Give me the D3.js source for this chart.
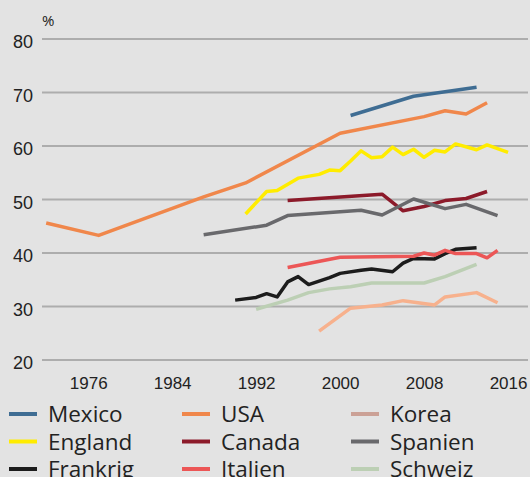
<!DOCTYPE html>
<html>
<head>
<meta charset="utf-8">
<script src="https://cdn.jsdelivr.net/npm/d3@7/dist/d3.min.js"></script>
<style>
  body { margin: 0; background: #e3e3e3; }
  svg { display: block; font-family: "Open Sans", sans-serif; }
  .grid line { stroke: #adadad; stroke-width: 2; }
  .tick text { fill: #222; }
</style>
</head>
<body>
<div id="chart"></div>
<script>
'use strict';

// data (year, percent)
var mexico = [[2001, 65.6], [2007, 69.2], [2013, 70.9]];
var usa = [[1972, 45.5], [1977, 43.2], [1987, 50.4], [1991, 53.0], [2000, 62.3],
    [2008, 65.4], [2010, 66.5], [2012, 65.9], [2014, 68.0]];
var korea = [[1998, 25.3], [2001, 29.6], [2004, 30.2], [2006, 31.0], [2009, 30.2],
    [2010, 31.7], [2013, 32.5], [2015, 30.6]];
var england = [[1991, 47.2], [1993, 51.4], [1994, 51.6], [1996, 53.9], [1998, 54.6],
    [1999, 55.4], [2000, 55.3], [2001, 57.1], [2002, 59.0], [2003, 57.7], [2004, 57.9],
    [2005, 59.7], [2006, 58.3], [2007, 59.3], [2008, 57.8], [2009, 59.1], [2010, 58.8],
    [2011, 60.3], [2013, 59.2], [2014, 60.1], [2016, 58.7]];
var canada = [[1995, 49.7], [2004, 50.9], [2006, 47.8], [2008, 48.6], [2010, 49.7],
    [2012, 50.1], [2014, 51.4]];
var spanien = [[1987, 43.3], [1993, 45.1], [1995, 46.9], [2002, 47.9], [2004, 47.0],
    [2007, 50.0], [2010, 48.2], [2012, 49.0], [2015, 46.9]];
var frankrig = [[1990, 31.1], [1992, 31.6], [1993, 32.3], [1994, 31.7], [1995, 34.5],
    [1996, 35.5], [1997, 34.0], [1999, 35.3], [2000, 36.1], [2002, 36.7], [2003, 36.9],
    [2005, 36.4], [2006, 38.0], [2007, 38.9], [2009, 38.8], [2010, 39.8], [2011, 40.6],
    [2013, 40.9]];
var italien = [[1995, 37.2], [2000, 39.1], [2007, 39.3], [2008, 39.9], [2009, 39.5],
    [2010, 40.4], [2011, 39.8], [2013, 39.8], [2014, 39.0], [2015, 40.4]];
var schweiz = [[1992, 29.4], [1995, 31.1], [1997, 32.5], [1999, 33.2], [2001, 33.6],
    [2003, 34.3], [2008, 34.3], [2010, 35.5], [2013, 37.8]];

var names = ['Mexico', 'USA', 'Korea', 'England', 'Canada', 'Spanien', 'Frankrig', 'Italien', 'Schweiz'];
var values = [mexico, usa, korea, england, canada, spanien, frankrig, italien, schweiz];
var lineColors = ['#3f6d93', '#f0874b', '#f7b18d', '#ffec00', '#8c1a2a', '#69696c', '#1c1c1c', '#ec5656', '#bccfb4'];
var legendColors = ['#3f6d93', '#f0874b', '#cba196', '#ffec00', '#8c1a2a', '#69696c', '#1c1c1c', '#ec5656', '#bccfb4'];

var yTicks = [20, 30, 40, 50, 60, 70, 80];
var xTicks = [1976, 1984, 1992, 2000, 2008, 2016];

var width = 530;
var height = 477;

var svg = d3.select('#chart')
    .append('svg')
    .attr('width', width)
    .attr('height', height);

var x = d3.scaleLinear().domain([1971.6, 2017.9]).range([42, 528]);
var y = d3.scaleLinear().domain([20, 80]).range([359.5, 38.5]);

// gridlines + y labels
var yAxis = svg.append('g')
    .attr('class', 'grid')
    .attr('transform', 'translate(42,0)')
    .call(d3.axisLeft(y).tickValues(yTicks).tickSize(-486).tickPadding(9).tickFormat(d3.format('d')));
yAxis.select('.domain').remove();
yAxis.selectAll('.tick text')
    .attr('font-size', 18)
    .attr('dy', '0.5em');

svg.append('text')
    .attr('x', 42)
    .attr('y', 26)
    .attr('font-size', 15)
    .attr('fill', '#222')
    .text('%');

var xAxis = svg.append('g')
    .attr('transform', 'translate(0,359.5)')
    .call(d3.axisBottom(x).tickValues(xTicks).tickSize(0).tickPadding(17).tickFormat(d3.format('d')));
xAxis.select('.domain').remove();
xAxis.selectAll('.tick text').attr('font-size', 17);

var line = d3.line()
    .x(function(d) { return x(d[0]); })
    .y(function(d) { return y(d[1]); });

svg.selectAll('.series')
    .data(values)
    .enter().append('path')
    .attr('class', 'series')
    .attr('fill', 'none')
    .attr('stroke', function(d, i) { return lineColors[i]; })
    .attr('stroke-width', 3.5)
    .attr('stroke-linejoin', 'round')
    .attr('d', line);

// legend, 3 columns
var colX = [9, 182, 351];
var rowY = [414, 441.5, 469];

var item = svg.selectAll('.legend')
    .data(names)
    .enter().append('g')
    .attr('class', 'legend')
    .attr('transform', function(d, i) {
        return 'translate(' + colX[i % 3] + ',' + rowY[Math.floor(i / 3)] + ')';
    });

item.append('line')
    .attr('x1', 0)
    .attr('x2', 28)
    .attr('stroke', function(d, i) { return legendColors[i]; })
    .attr('stroke-width', 4);

item.append('text')
    .attr('x', 39)
    .attr('y', 8)
    .attr('font-size', 22.5)
    .attr('fill', '#222')
    .text(function(d) { return d; });
</script>
</body>
</html>
